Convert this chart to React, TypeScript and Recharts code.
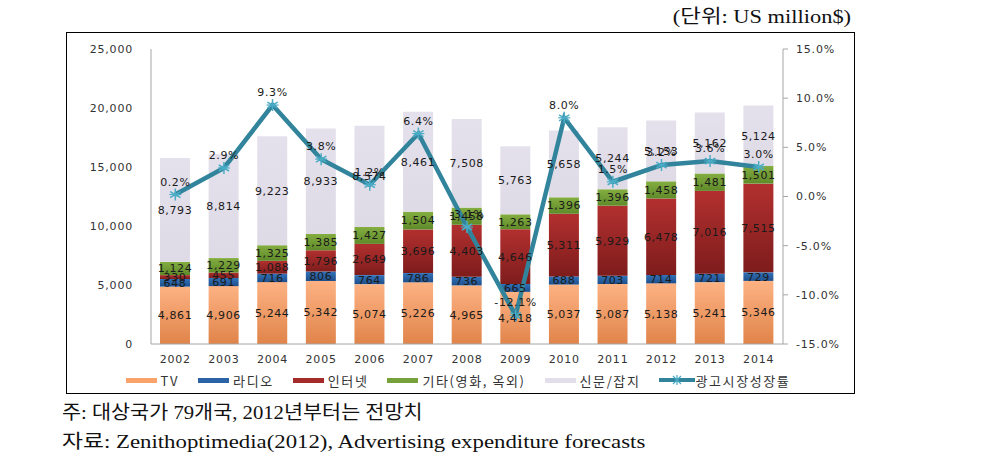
import React from "react";
import {
  ComposedChart,
  Bar,
  Line,
  XAxis,
  YAxis,
  Legend,
  LabelList,
} from "recharts";

const years = ["2002", "2003", "2004", "2005", "2006", "2007", "2008", "2009", "2010", "2011", "2012", "2013", "2014"];
const tv = [4861, 4906, 5244, 5342, 5074, 5226, 4965, 4418, 5037, 5087, 5138, 5241, 5346];
const radio = [648, 691, 716, 806, 764, 786, 736, 665, 688, 703, 714, 721, 729];
const internet = [330, 455, 1088, 1796, 2649, 3696, 4403, 4646, 5311, 5929, 6478, 7016, 7515];
const other = [1124, 1229, 1325, 1385, 1427, 1504, 1458, 1263, 1396, 1396, 1458, 1481, 1501];
const press = [8793, 8814, 9223, 8933, 8574, 8461, 7508, 5763, 5658, 5244, 5153, 5162, 5124];
const growth = [0.2, 2.9, 9.3, 3.8, 1.2, 6.4, -3.1, -12.1, 8.0, 1.5, 3.2, 3.6, 3.0];

const leftTicks = [0, 5000, 10000, 15000, 20000, 25000];
const rightTicks = [-15, -10, -5, 0, 5, 10, 15];

const seriesNames = {
  tv: "TV",
  radio: "라디오",
  internet: "인터넷",
  other: "기타(영화, 옥외)",
  press: "신문/잡지",
  growth: "광고시장성장률",
};

const data = years.map((y, i) => ({
  year: y,
  tv: tv[i],
  radio: radio[i],
  internet: internet[i],
  other: other[i],
  press: press[i],
  growth: growth[i],
}));

const NUM_FONT = "'DejaVu Sans', Verdana, sans-serif";
const KO_FONT = "'Noto Sans CJK KR', 'Noto Sans', sans-serif";
const SERIF = "'Liberation Serif', 'Noto Sans CJK KR', serif";

const fmt = (v: any) => Number(v).toLocaleString("en-US");
const pct = (v: any) => `${Number(v).toFixed(1)}%`;

const labelStyle = {
  fontSize: 11,
  fill: "#1a1a1a",
  fontFamily: NUM_FONT,
  letterSpacing: 0.6,
};

const StarDot = (props: any) => {
  const { cx, cy } = props;
  if (cx == null || cy == null) return null;
  const r = 6;
  const c = "#4BACC6";
  const lines = [0, 60, 120].map((a) => {
    const rad = (a * Math.PI) / 180;
    const dx = r * Math.sin(rad);
    const dy = r * Math.cos(rad);
    return <line key={a} x1={cx - dx} y1={cy - dy} x2={cx + dx} y2={cy + dy} stroke={c} strokeWidth={1.5} />;
  });
  return (
    <g>
      {lines}
      <line x1={cx - r} y1={cy} x2={cx + r} y2={cy} stroke={c} strokeWidth={1.2} />
    </g>
  );
};

const legendItems = [
  { name: seriesNames.tv, color: "#F9A36A", type: "rect" },
  { name: seriesNames.radio, color: "#2A63A6", type: "rect" },
  { name: seriesNames.internet, color: "#A52A2A", type: "rect" },
  { name: seriesNames.other, color: "#77A13A", type: "rect" },
  { name: seriesNames.press, color: "#E2DFEA", type: "rect" },
  { name: seriesNames.growth, color: "#31849B", type: "line" },
];

const LegendContent = () => (
  <div
    style={{
      display: "flex",
      justifyContent: "center",
      alignItems: "center",
      height: 20,
      fontFamily: KO_FONT,
      fontSize: 13,
      letterSpacing: 1.6,
      color: "#333",
      gap: 19,
      paddingRight: 8,
    }}
  >
    {legendItems.map((it) => (
      <div key={it.name} style={{ display: "flex", alignItems: "center" }}>
        {it.type === "rect" ? (
          <div style={{ width: 31, height: 5, background: it.color, marginRight: 4 }} />
        ) : (
          <svg width={36} height={10} style={{ marginRight: 0 }}>
            <line x1={0} y1={5} x2={36} y2={5} stroke={it.color} strokeWidth={4} />
            <line x1={18} y1={0} x2={18} y2={10} stroke="#4BACC6" strokeWidth={1.2} />
            <line x1={14} y1={1} x2={22} y2={9} stroke="#4BACC6" strokeWidth={1.2} />
            <line x1={22} y1={1} x2={14} y2={9} stroke="#4BACC6" strokeWidth={1.2} />
          </svg>
        )}
        <span>{it.name}</span>
      </div>
    ))}
  </div>
);

export default function App() {
  return (
    <div style={{ position: "absolute", left: 0, top: 0, width: 982, height: 469, background: "#fff" }}>
      <div
        style={{
          position: "absolute",
          right: 982 - 851,
          top: 1,
          fontFamily: SERIF,
          fontSize: 19,
          color: "#111",
          whiteSpace: "nowrap",
          transform: "scaleX(1.18)",
          transformOrigin: "right center",
        }}
      >
        (단위: US million$)
      </div>
      <div
        style={{
          position: "absolute",
          left: 66,
          top: 32,
          width: 787,
          height: 360,
          border: "1.5px solid #000",
          boxSizing: "content-box",
        }}
      >
        <ComposedChart
          width={787}
          height={360}
          data={data}
          margin={{ top: 16, right: 11, bottom: 3, left: 14 }}
          barCategoryGap={0}
        >
          <defs>
            <linearGradient id="gTv" x1="0" y1="0" x2="0" y2="1">
              <stop offset="0%" stopColor="#FDB283" />
              <stop offset="100%" stopColor="#E0844A" />
            </linearGradient>
            <linearGradient id="gRadio" x1="0" y1="0" x2="0" y2="1">
              <stop offset="0%" stopColor="#3272B8" />
              <stop offset="100%" stopColor="#1F4F8C" />
            </linearGradient>
            <linearGradient id="gNet" x1="0" y1="0" x2="0" y2="1">
              <stop offset="0%" stopColor="#B2302F" />
              <stop offset="100%" stopColor="#7E1C1C" />
            </linearGradient>
            <linearGradient id="gOther" x1="0" y1="0" x2="0" y2="1">
              <stop offset="0%" stopColor="#84AE40" />
              <stop offset="100%" stopColor="#5F8A2A" />
            </linearGradient>
            <linearGradient id="gPress" x1="0" y1="0" x2="0" y2="1">
              <stop offset="0%" stopColor="#E4E1EC" />
              <stop offset="100%" stopColor="#DEDBE7" />
            </linearGradient>
          </defs>
          <XAxis
            dataKey="year"
            height={26}
            axisLine={{ stroke: "#A6A6A6" }}
            tickLine={false}
            tickMargin={5}
            tick={{ fontSize: 11, fill: "#333", fontFamily: NUM_FONT, letterSpacing: 0.8 }}
          />
          <YAxis
            yAxisId="left"
            width={70}
            domain={[0, 25000]}
            ticks={leftTicks}
            tickFormatter={fmt}
            axisLine={{ stroke: "#A6A6A6" }}
            tickLine={false}
            tickSize={0}
            tickMargin={18}
            tick={{ fontSize: 11, fill: "#333", fontFamily: NUM_FONT, letterSpacing: 0.8 }}
            interval={0}
          />
          <YAxis
            yAxisId="right"
            orientation="right"
            width={60}
            domain={[-15, 15]}
            ticks={rightTicks}
            tickFormatter={pct}
            axisLine={{ stroke: "#A6A6A6" }}
            tickLine={{ stroke: "#A6A6A6" }}
            tickSize={5}
            tickMargin={8}
            tick={{ fontSize: 11, fill: "#333", fontFamily: NUM_FONT, letterSpacing: 0.8 }}
            interval={0}
          />
          <Legend verticalAlign="bottom" content={<LegendContent />} height={20} />
          <Bar yAxisId="left" dataKey="tv" name={seriesNames.tv} stackId="s" fill="url(#gTv)" barSize={30} isAnimationActive={false}>
            <LabelList dataKey="tv" position="center" formatter={fmt} style={labelStyle} />
          </Bar>
          <Bar yAxisId="left" dataKey="radio" name={seriesNames.radio} stackId="s" fill="url(#gRadio)" barSize={30} isAnimationActive={false}>
            <LabelList dataKey="radio" position="center" formatter={fmt} style={labelStyle} />
          </Bar>
          <Bar yAxisId="left" dataKey="internet" name={seriesNames.internet} stackId="s" fill="url(#gNet)" barSize={30} isAnimationActive={false}>
            <LabelList dataKey="internet" position="center" formatter={fmt} style={labelStyle} />
          </Bar>
          <Bar yAxisId="left" dataKey="other" name={seriesNames.other} stackId="s" fill="url(#gOther)" barSize={30} isAnimationActive={false}>
            <LabelList dataKey="other" position="center" formatter={fmt} style={labelStyle} />
          </Bar>
          <Bar yAxisId="left" dataKey="press" name={seriesNames.press} stackId="s" fill="url(#gPress)" barSize={30} isAnimationActive={false}>
            <LabelList dataKey="press" position="center" formatter={fmt} style={labelStyle} />
          </Bar>
          <Line
            yAxisId="right"
            dataKey="growth"
            name={seriesNames.growth}
            type="linear"
            stroke="#31849B"
            strokeWidth={4.5}
            dot={<StarDot />}
            activeDot={false}
            isAnimationActive={false}
          >
            <LabelList dataKey="growth" position="top" offset={9} formatter={pct} style={labelStyle} />
          </Line>
        </ComposedChart>
      </div>
      <div
        style={{
          position: "absolute",
          left: 62,
          top: 398,
          fontFamily: SERIF,
          fontSize: 19,
          color: "#111",
          whiteSpace: "nowrap",
          lineHeight: "29px",
        }}
      >
        <div style={{ transform: "scaleX(1.09)", transformOrigin: "left center" }}>주: 대상국가 79개국, 2012년부터는 전망치</div>
        <div style={{ transform: "scaleX(1.2)", transformOrigin: "left center" }}>
          자료: Zenithoptimedia(2012), Advertising expenditure forecasts
        </div>
      </div>
    </div>
  );
}
